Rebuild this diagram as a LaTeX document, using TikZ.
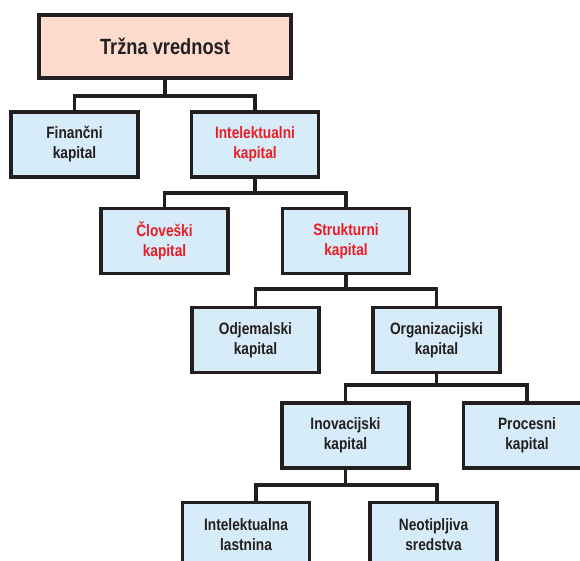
\documentclass[tikz,border=0pt]{standalone}
\usepackage{fontspec}
\setmainfont[FakeStretch=0.83]{Liberation Sans}
\definecolor{boxblue}{HTML}{D6ECF8}
\definecolor{boxpink}{HTML}{FDDCCE}
\definecolor{inkdark}{HTML}{231F20}
\definecolor{inkred}{HTML}{EC1C24}
\begin{document}
\begin{tikzpicture}[x=1pt,y=-1pt,
  box/.style={draw=inkdark, line width=3.5pt, fill=boxblue, minimum width=127pt, minimum height=65pt,
    align=center, inner sep=0pt, text=inkdark, font=\bfseries\fontsize{16.5}{20}\selectfont},
  redtext/.style={text=inkred},
  topbox/.style={box, fill=boxpink, minimum width=252pt, minimum height=63pt, font=\bfseries\fontsize{22}{26}\selectfont},
  conn/.style={draw=inkdark, line width=3.8pt, line join=miter}]
\useasboundingbox (0,0) rectangle (580,561);
\clip (0,0) rectangle (580,561);
\node[topbox] (top) at (165,46.5) {Tržna vrednost};
\node[box] (fin) at (74.5,144.5) {Finančni\\kapital};
\node[box,redtext] (int) at (255,144.5) {Intelektualni\\kapital};
\node[box,redtext] (clov) at (164.5,241) {Človeški\\kapital};
\node[box,redtext] (strk) at (346,241) {Strukturni\\kapital};
\node[box] (odj) at (255.5,340) {Odjemalski\\kapital};
\node[box] (org) at (436.5,340) {Organizacijski\\kapital};
\node[box] (inov) at (345.5,435.5) {Inovacijski\\kapital};
\node[box] (proc) at (527,435.5) {Procesni\\kapital};
\node[box] (intl) at (246,535) {Intelektualna\\lastnina};
\node[box] (neo) at (433.5,535) {Neotipljiva\\sredstva};
\coordinate (j1) at (165,96);
\coordinate (j2) at (255,193);
\coordinate (j3) at (346,289);
\coordinate (j4) at (436.5,385);
\coordinate (j5) at (345.5,485);
\coordinate (d1) at (256,485);
\coordinate (d2) at (437,485);
\draw[conn] (top.south) -- (j1) -| (fin.north);
\draw[conn] (j1) -| (int.north);
\draw[conn] (int.south) -- (j2) -| (clov.north);
\draw[conn] (j2) -| (strk.north);
\draw[conn] (strk.south) -- (j3) -| (odj.north);
\draw[conn] (j3) -| (org.north);
\draw[conn] (org.south) -- (j4) -| (inov.north);
\draw[conn] (j4) -| (proc.north);
\draw[conn] (inov.south) -- (j5);
\draw[conn] (d1 |- intl.north) -- (d1) -- (d2) -- (d2 |- neo.north);
\end{tikzpicture}
\end{document}
